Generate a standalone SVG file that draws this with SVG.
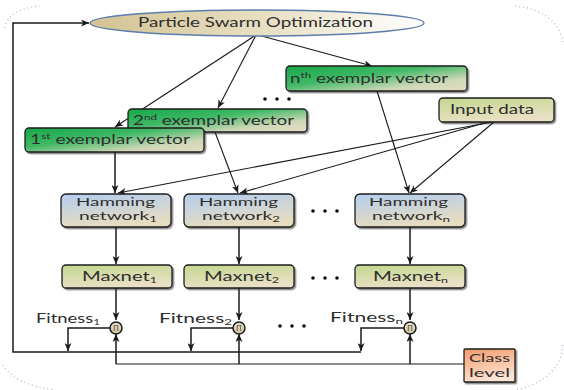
<svg xmlns="http://www.w3.org/2000/svg" width="564" height="390" viewBox="0 0 564 390">
<defs>
  <linearGradient id="gEll" x1="0" y1="0" x2="1" y2="0">
    <stop offset="0" stop-color="#d3c394"/>
    <stop offset="0.55" stop-color="#e9e1c6"/>
    <stop offset="1" stop-color="#ffffff"/>
  </linearGradient>
  <linearGradient id="gGreen" x1="0" y1="0" x2="1" y2="1">
    <stop offset="0" stop-color="#17a84a"/>
    <stop offset="0.4" stop-color="#3fb865"/>
    <stop offset="0.75" stop-color="#cfd8b8"/>
    <stop offset="1" stop-color="#e6dcc2"/>
  </linearGradient>
  <linearGradient id="gBlue" x1="0" y1="0" x2="0.3" y2="1">
    <stop offset="0" stop-color="#b4cdef"/>
    <stop offset="1" stop-color="#e6dcc0"/>
  </linearGradient>
  <linearGradient id="gOlive" x1="0" y1="0" x2="0.3" y2="1">
    <stop offset="0" stop-color="#c3d78e"/>
    <stop offset="1" stop-color="#e9e0c5"/>
  </linearGradient>
  <linearGradient id="gOrange" x1="0" y1="0" x2="0.3" y2="1">
    <stop offset="0" stop-color="#f39a6a"/>
    <stop offset="1" stop-color="#fde3d2"/>
  </linearGradient>
  <linearGradient id="gCirc" x1="0" y1="0" x2="0" y2="1">
    <stop offset="0" stop-color="#efe8cf"/>
    <stop offset="1" stop-color="#cfc296"/>
  </linearGradient>
  <filter id="sh" x="-10%" y="-20%" width="125%" height="150%">
    <feDropShadow dx="1.5" dy="1.5" stdDeviation="0.7" flood-color="#222" flood-opacity="0.55"/>
  </filter>
  <marker id="ah" viewBox="0 0 8 7" refX="8" refY="3.5" markerWidth="8" markerHeight="7" markerUnits="userSpaceOnUse" orient="auto">
    <path d="M0,0 L8,3.5 L0,7 L2.2,3.5 z" fill="#1a1a1a"/>
  </marker>
</defs>
<style>
  text { font-family: Lato, "Liberation Sans", sans-serif; fill: #2e2e2e; }
  .lbl { font-size: 13px; }
  .hl { font-size: 11.5px; }
  .sm { font-size: 12.5px; }
  .cl { font-size: 11.5px; }
  .sub { font-size: 8px; }
  .box { stroke: #1c1c1c; stroke-width: 1.3; filter: url(#sh); }
  .c { fill: none; stroke: #1a1a1a; stroke-width: 1.1; }
  .cv { fill: none; stroke: #1a1a1a; stroke-width: 1.5; }
  .a { marker-end: url(#ah); }
  .dot { fill: #111; }
  .frame { fill: none; stroke: #aab4c4; stroke-width: 1.2; stroke-dasharray: 1 3; }
</style>
<rect x="0" y="0" width="564" height="390" fill="#ffffff"/>
<g id="frame">
  <path class="frame" d="M5,28 Q8,9 40,6"/>
  <path class="frame" d="M515,6 Q556,10 563,42"/>
  <path class="frame" d="M563,345 Q560,380 515,390"/>
  <path class="frame" d="M3,365 Q15,385 55,390"/>
</g>

<g id="connectors">
  <path class="c a" d="M256,35 L115,127"/>
  <path class="c a" d="M256,35 L218,108"/>
  <path class="c a" d="M258,35 L372,66"/>
  <path class="cv a" d="M115,152 L115,193"/>
  <path class="c a" d="M215,132 L238,193"/>
  <path class="c a" d="M377,91 L409,193"/>
  <path class="c a" d="M492,122 L118,193"/>
  <path class="c a" d="M488,122 L240,193"/>
  <path class="c a" d="M494,122 L410,193"/>
  <path class="cv a" d="M116,227 L116,264"/>
  <path class="cv a" d="M239,227 L239,264"/>
  <path class="cv a" d="M410,227 L410,264"/>
  <path class="cv a" d="M116,288 L116,320"/>
  <path class="cv a" d="M239,288 L239,320"/>
  <path class="cv a" d="M410,288 L410,320"/>
  <path class="cv a" d="M110,328 L68,328 L68,351"/>
  <path class="cv a" d="M233,328 L191,328 L191,351"/>
  <path class="cv a" d="M404,328 L361,328 L361,351"/>
  <path class="cv a" d="M361,352 L13,352 L13,23 L89,23"/>
  <path class="c" d="M464,364 L116,364"/>
  <path class="cv a" d="M116,364 L116,334"/>
  <path class="cv a" d="M239,364 L239,334"/>
  <path class="cv a" d="M410,364 L410,334"/>
</g>

<g id="pso">
  <ellipse cx="257" cy="23" rx="167" ry="13" fill="url(#gEll)" stroke="#5d7dab" stroke-width="1.5"/>
  <text class="lbl" x="138" y="27" textLength="235" lengthAdjust="spacingAndGlyphs">Particle Swarm Optimization</text>
</g>

<g id="exemplar-n">
  <rect class="box" x="286" y="66" width="181" height="25" rx="4" fill="url(#gGreen)"/>
  <text class="lbl" x="290" y="83" textLength="158" lengthAdjust="spacingAndGlyphs">n<tspan class="sub" dy="-5">th</tspan><tspan dy="5"> exemplar vector</tspan></text>
</g>

<g id="exemplar-2">
  <rect class="box" x="128" y="109" width="179" height="23" rx="4" fill="url(#gGreen)"/>
  <text class="lbl" x="133" y="125" textLength="161" lengthAdjust="spacingAndGlyphs">2<tspan class="sub" dy="-5">nd</tspan><tspan dy="5"> exemplar vector</tspan></text>
</g>

<g id="exemplar-1">
  <rect class="box" x="25" y="128" width="179" height="24" rx="4" fill="url(#gGreen)"/>
  <text class="lbl" x="30" y="144" textLength="160" lengthAdjust="spacingAndGlyphs">1<tspan class="sub" dy="-5">st</tspan><tspan dy="5">  exemplar vector</tspan></text>
</g>

<g id="input-data">
  <rect class="box" x="439" y="98" width="115" height="24" rx="4" fill="url(#gOlive)"/>
  <text class="lbl" x="450" y="114" textLength="84" lengthAdjust="spacingAndGlyphs">Input data</text>
</g>

<g id="hamming-1">
  <rect class="box" x="61" y="194" width="110" height="33" rx="5" fill="url(#gBlue)"/>
  <text class="hl" x="76" y="206" textLength="79" lengthAdjust="spacingAndGlyphs">Hamming</text>
  <text class="hl" x="79" y="220" textLength="78" lengthAdjust="spacingAndGlyphs">network<tspan class="sub" dy="2">1</tspan></text>
</g>
<g id="hamming-2">
  <rect class="box" x="184" y="194" width="110" height="33" rx="5" fill="url(#gBlue)"/>
  <text class="hl" x="199" y="206" textLength="79" lengthAdjust="spacingAndGlyphs">Hamming</text>
  <text class="hl" x="202" y="220" textLength="78" lengthAdjust="spacingAndGlyphs">network<tspan class="sub" dy="2">2</tspan></text>
</g>
<g id="hamming-n">
  <rect class="box" x="355" y="194" width="110" height="33" rx="5" fill="url(#gBlue)"/>
  <text class="hl" x="369" y="206" textLength="79" lengthAdjust="spacingAndGlyphs">Hamming</text>
  <text class="hl" x="372" y="220" textLength="78" lengthAdjust="spacingAndGlyphs">network<tspan class="sub" dy="2">n</tspan></text>
</g>

<g id="maxnet-1">
  <rect class="box" x="62" y="265" width="110" height="23" rx="4" fill="url(#gOlive)"/>
  <text class="lbl" x="82" y="281" textLength="75" lengthAdjust="spacingAndGlyphs">Maxnet<tspan class="sub" dy="2">1</tspan></text>
</g>
<g id="maxnet-2">
  <rect class="box" x="184" y="265" width="110" height="23" rx="4" fill="url(#gOlive)"/>
  <text class="lbl" x="204" y="281" textLength="75" lengthAdjust="spacingAndGlyphs">Maxnet<tspan class="sub" dy="2">2</tspan></text>
</g>
<g id="maxnet-n">
  <rect class="box" x="355" y="265" width="110" height="23" rx="4" fill="url(#gOlive)"/>
  <text class="lbl" x="373" y="281" textLength="75" lengthAdjust="spacingAndGlyphs">Maxnet<tspan class="sub" dy="2">n</tspan></text>
</g>

<g id="product-1">
  <circle cx="116" cy="328" r="6" fill="url(#gCirc)" stroke="#1a1a1a" stroke-width="1.5"/>
  <text x="116" y="330.5" font-size="7" text-anchor="middle">Π</text>
</g>
<g id="product-2">
  <circle cx="239" cy="328" r="6" fill="url(#gCirc)" stroke="#1a1a1a" stroke-width="1.5"/>
  <text x="239" y="330.5" font-size="7" text-anchor="middle">Π</text>
</g>
<g id="product-n">
  <circle cx="410" cy="328" r="6" fill="url(#gCirc)" stroke="#1a1a1a" stroke-width="1.5"/>
  <text x="410" y="330.5" font-size="7" text-anchor="middle">Π</text>
</g>

<g id="fitness-labels">
  <text class="sm" x="36" y="323" textLength="64" lengthAdjust="spacingAndGlyphs">Fitness<tspan class="sub" dy="2">1</tspan></text>
  <text class="sm" x="159" y="323" textLength="73" lengthAdjust="spacingAndGlyphs">Fitness<tspan class="sub" dy="2">2</tspan></text>
  <text class="sm" x="330" y="322" textLength="73" lengthAdjust="spacingAndGlyphs">Fitness<tspan class="sub" dy="2">n</tspan></text>
</g>

<g id="class-level">
  <rect class="box" x="464" y="349" width="51" height="33" rx="1" fill="url(#gOrange)" stroke-width="1"/>
  <text class="cl" x="469" y="362" textLength="41" lengthAdjust="spacingAndGlyphs">Class</text>
  <text class="cl" x="469" y="377" textLength="41" lengthAdjust="spacingAndGlyphs">level</text>
</g>

<g id="ellipsis-dots">
  <circle class="dot" cx="265" cy="99" r="1.8"/><circle class="dot" cx="277" cy="99" r="1.8"/><circle class="dot" cx="289" cy="99" r="1.8"/>
  <circle class="dot" cx="313" cy="211" r="1.8"/><circle class="dot" cx="325" cy="211" r="1.8"/><circle class="dot" cx="337" cy="211" r="1.8"/>
  <circle class="dot" cx="313" cy="278" r="1.8"/><circle class="dot" cx="325" cy="278" r="1.8"/><circle class="dot" cx="337" cy="278" r="1.8"/>
  <circle class="dot" cx="280" cy="326" r="1.8"/><circle class="dot" cx="292" cy="326" r="1.8"/><circle class="dot" cx="304" cy="326" r="1.8"/>
</g>
</svg>
